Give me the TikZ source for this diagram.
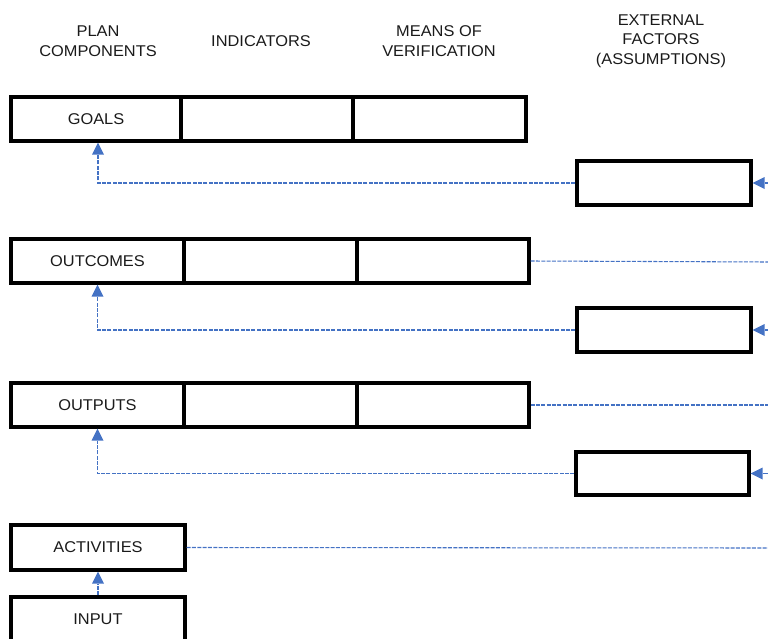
\documentclass[tikz,border=0pt]{standalone}
\usepackage{fontspec}
\setmainfont{Liberation Sans}[FakeStretch=1.05]
\usetikzlibrary{arrows.meta,calc}
\definecolor{linkblue}{HTML}{4472C4}
\definecolor{txt}{HTML}{1A1A1A}
\begin{document}
\begin{tikzpicture}[x=0.75pt,y=-0.75pt,
  cell/.style={draw=black,line width=2.4pt,minimum height=33pt,inner sep=0pt,font=\fontsize{11.7}{13}\selectfont,text=txt},
  head/.style={align=center,font=\fontsize{11.7}{14.6}\selectfont,text=txt,inner sep=0pt},
  link/.style={draw=linkblue,line width=0.8pt,dash pattern=on 3pt off 1pt},
  tip/.style={-{Triangle[length=9pt,width=9pt,fill=linkblue,line width=0pt]}}
]
\useasboundingbox (0,0) rectangle (768,639);
% headers
\node[head] (h1) at (98,41) {PLAN\\COMPONENTS};
\node[head] (h2) at (261,41) {INDICATORS};
\node[head] (h3) at (439,41) {MEANS OF\\VERIFICATION};
\node[head] (h4) at (661,41) {EXTERNAL\\FACTORS\\(ASSUMPTIONS)};
% goals row
\node[cell,minimum width=127.5pt] (goals) at (96,119) {GOALS};
\node[cell,minimum width=129pt] (goalsind) at (267,119) {};
\node[cell,minimum width=129.75pt] (goalsmov) at (439.5,119) {};
% outcomes row
\node[cell,minimum width=129.75pt] (outcomes) at (97.5,261) {OUTCOMES};
\node[cell,minimum width=129.75pt] (outcomesind) at (270.5,261) {};
\node[cell,minimum width=129pt] (outcomesmov) at (443,261) {};
% outputs row
\node[cell,minimum width=129.75pt] (outputs) at (97.5,405) {OUTPUTS};
\node[cell,minimum width=129.75pt] (outputsind) at (270.5,405) {};
\node[cell,minimum width=129pt] (outputsmov) at (443,405) {};
% activities, input
\node[cell,minimum width=130.5pt,minimum height=33.75pt] (activities) at (98,547.5) {ACTIVITIES};
\node[cell,minimum width=130.5pt] (input) at (98,619) {INPUT};
% external factor boxes
\node[cell,minimum width=130.5pt] (ext1) at (664,183) {};
\node[cell,minimum width=130.5pt] (ext2) at (664,330) {};
\node[cell,minimum width=129.75pt,minimum height=32.25pt] (ext3) at (662.5,473.5) {};
% right edge coordinates
\coordinate (r1) at (768,183);
\coordinate (r2) at (768,262);
\coordinate (r3) at (768,330);
\coordinate (r4) at (768,405);
\coordinate (r5) at (768,473.5);
\coordinate (r6) at (768,548);
% connectors
\draw[link,tip] (ext1.west) -| ($(goals.south)+(2,0)$);
\draw[link,tip] (ext2.west) -| (outcomes.south);
\draw[link,tip] (ext3.west) -| (outputs.south);
\draw[link,tip] (input.north) -- (activities.south);
\draw[link,tip] (r1) -- (ext1.east);
\draw[link,tip] (r3) -- (ext2.east);
\draw[link,tip] (r5) -- (ext3.east);
\draw[link] (outcomesmov.east) -- (r2);
\draw[link] (outputsmov.east) -- (r4);
\draw[link] (activities.east) -- (r6);
\end{tikzpicture}
\end{document}
